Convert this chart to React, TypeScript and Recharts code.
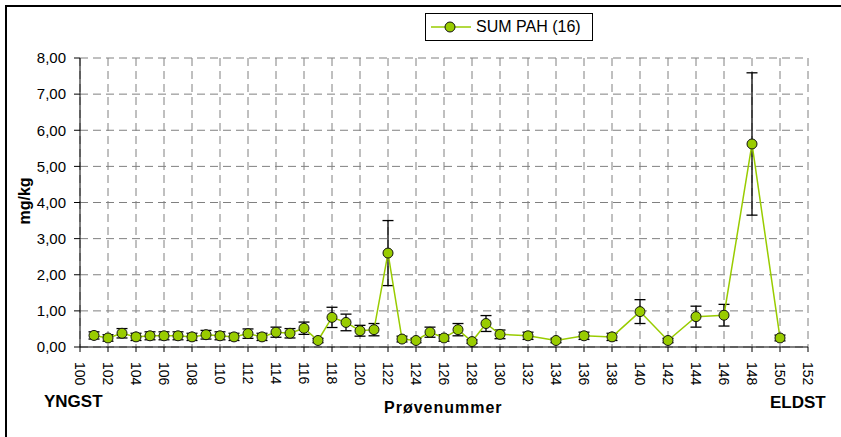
import { LineChart, Line, XAxis, YAxis, CartesianGrid, ErrorBar } from "recharts";

// prøvenummer (sample no.), SUM PAH (16) in mg/kg, +/- error
const sampleIds = [
  101, 102, 103, 104, 105, 106, 107, 108, 109, 110, 111, 112, 113, 114, 115, 116, 117, 118, 119, 120,
  121, 122, 123, 124, 125, 126, 127, 128, 129, 130, 132, 134, 136, 138, 140, 142, 144, 146, 148, 150,
];
const sumPah = [
  0.32, 0.25, 0.38, 0.28, 0.31, 0.31, 0.31, 0.28, 0.34, 0.31, 0.28, 0.37, 0.28, 0.41, 0.38, 0.52, 0.18, 0.82, 0.68, 0.45,
  0.48, 2.6, 0.22, 0.18, 0.41, 0.25, 0.48, 0.15, 0.65, 0.35, 0.31, 0.18, 0.31, 0.28, 0.98, 0.18, 0.84, 0.88, 5.62, 0.25,
];
const sumPahErr = [
  0.1, 0.09, 0.13, 0.1, 0.11, 0.11, 0.11, 0.1, 0.12, 0.11, 0.1, 0.13, 0.1, 0.14, 0.13, 0.17, 0.06, 0.28, 0.23, 0.15,
  0.17, 0.9, 0.08, 0.06, 0.14, 0.09, 0.17, 0.05, 0.22, 0.12, 0.1, 0.06, 0.1, 0.1, 0.33, 0.06, 0.29, 0.3, 1.97, 0.08,
];
const xTicks = [100, 102, 104, 106, 108, 110, 112, 114, 116, 118, 120, 122, 124, 126, 128, 130, 132, 134, 136, 138, 140, 142, 144, 146, 148, 150, 152];
const yTicks = [0, 1, 2, 3, 4, 5, 6, 7, 8];

const data = sampleIds.map((id, i) => ({ id, pah: sumPah[i], err: sumPahErr[i] }));

const GREEN = "#99CC00";
const FONT = "'Liberation Sans', Arial, sans-serif";

const RotatedTick = (props: any) => {
  const { x, y, payload } = props;
  return (
    <text
      x={x}
      y={y + 8}
      transform={`rotate(90, ${x}, ${y + 8})`}
      textAnchor="start"
      dominantBaseline="central"
      fontSize={14}
      fontFamily={FONT}
      fill="#000"
    >
      {payload.value}
    </text>
  );
};

const bold = { position: "absolute" as const, fontFamily: FONT, fontWeight: 700, color: "#000" };

export default function App() {
  return (
    <div style={{ position: "absolute", left: 0, top: 0, width: 841, height: 437, background: "#fff", overflow: "hidden" }}>
      <div style={{ position: "absolute", left: 5, top: 5, width: 900, height: 500, borderLeft: "2px solid #000", borderTop: "2px solid #000" }} />
      <LineChart width={841} height={437} data={data} margin={{ top: 58, right: 33, left: 5, bottom: 60 }}>
        <CartesianGrid stroke="#808080" strokeDasharray="8 5" />
        <XAxis
          dataKey="id"
          type="number"
          domain={[100, 152]}
          ticks={xTicks}
          interval={0}
          height={30}
          tickSize={5}
          tickMargin={2}
          stroke="#000"
          tick={<RotatedTick />}
        />
        <YAxis
          type="number"
          domain={[0, 8]}
          ticks={yTicks}
          width={75}
          tickSize={6}
          tickMargin={8}
          stroke="#000"
          tick={{ fill: "#000", fontSize: 15, fontFamily: FONT }}
          tickFormatter={(v: number) => v.toFixed(2).replace(".", ",")}
        />
        <Line
          type="linear"
          dataKey="pah"
          name="SUM PAH (16)"
          stroke={GREEN}
          strokeWidth={1.5}
          dot={{ r: 5, fill: GREEN, stroke: "#111", strokeWidth: 1 }}
          activeDot={false}
          isAnimationActive={false}
        >
          <ErrorBar dataKey="err" direction="y" width={5.5} stroke="#000" strokeWidth={1.3} />
        </Line>
      </LineChart>
      <div
        style={{
          position: "absolute",
          left: 425,
          top: 13,
          width: 166,
          height: 26,
          border: "1px solid #000",
          display: "flex",
          alignItems: "center",
          fontFamily: FONT,
          fontSize: 16,
          background: "#fff",
        }}
      >
        <svg width={46} height={26}>
          <line x1={5} y1={13} x2={45} y2={13} stroke={GREEN} strokeWidth={1.5} />
          <circle cx={24} cy={13} r={5} fill={GREEN} stroke="#111" strokeWidth={1} />
        </svg>
        <span style={{ marginLeft: 4 }}>SUM PAH (16)</span>
      </div>
      <div
        style={{
          ...bold,
          fontSize: 16,
          left: 25,
          top: 201,
          transform: "translate(-50%, -50%) rotate(-90deg)",
          whiteSpace: "nowrap",
        }}
      >
        mg/kg
      </div>
      <div style={{ ...bold, fontSize: 17, left: 44, top: 392 }}>YNGST</div>
      <div style={{ ...bold, fontSize: 16, left: 384, top: 399, letterSpacing: 1 }}>Prøvenummer</div>
      <div style={{ ...bold, fontSize: 17, left: 770, top: 393 }}>ELDST</div>
    </div>
  );
}
